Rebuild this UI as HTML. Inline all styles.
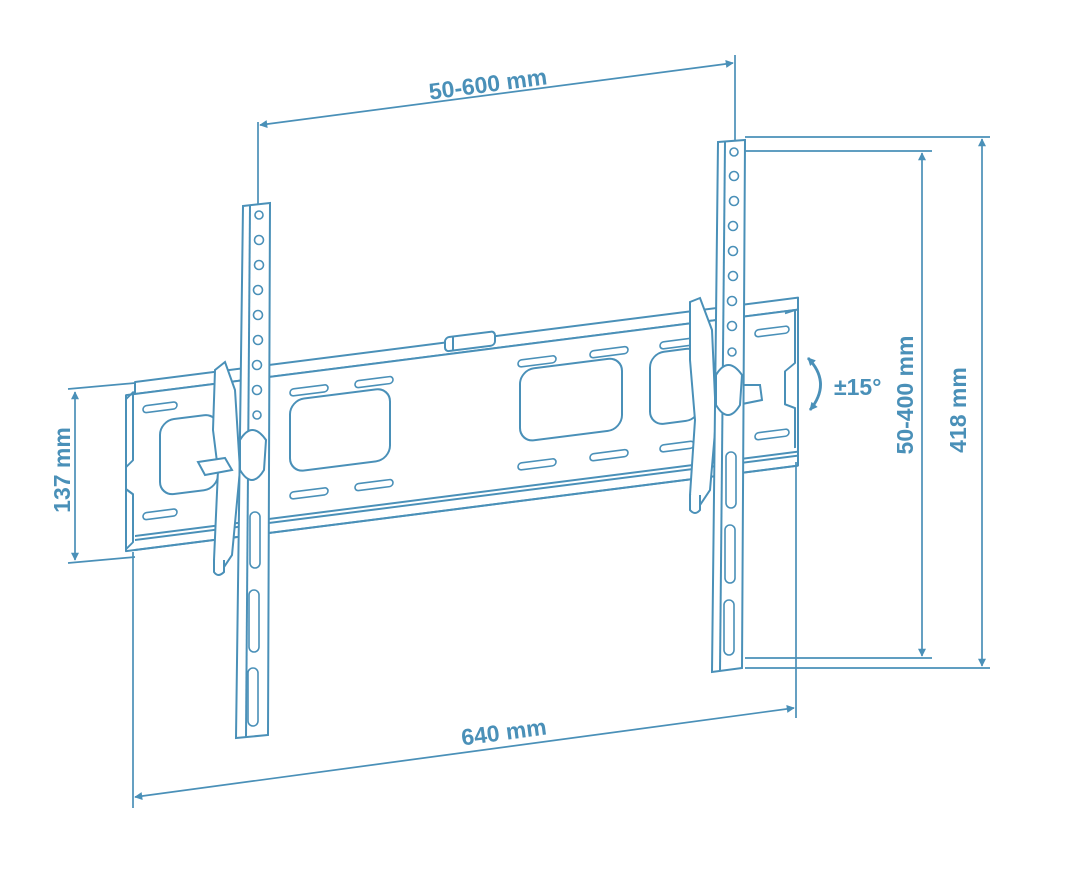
<!DOCTYPE html>
<html><head><style>
html,body{margin:0;padding:0;background:#fff;}
svg{display:block;}
text{font-family:"Liberation Sans",sans-serif;font-weight:bold;fill:#4a90b8;font-size:23px;}
</style></head><body>
<svg width="1079" height="880" viewBox="0 0 1079 880" xmlns="http://www.w3.org/2000/svg">
<defs>
<marker id="a" viewBox="0 0 10 10" refX="9" refY="5" markerWidth="11" markerHeight="8" orient="auto-start-reverse" markerUnits="userSpaceOnUse"><path d="M0,0 L10,5 L0,10 z" fill="#4a90b8"/></marker>
</defs>
<g stroke="#4a90b8" stroke-width="2" fill="none">
<g transform="translate(135,382) skewY(-7.25)" stroke-linejoin="round">
<path d="M0,0 L663,0 L663,12 L0,12 z" fill="#fff"/>
<path d="M-9,12 L663,12 L663,168 L-9,168 z" fill="#fff"/>
<path d="M-9,16 L-2,10 L-2,78 L-9,84 z"/>
<path d="M-9,106 L-2,112 L-2,160 L-9,166"/>
<line x1="0" y1="154" x2="663" y2="154"/>
<line x1="0" y1="158" x2="663" y2="158"/>
<line x1="0" y1="168" x2="663" y2="168"/>
<rect x="25" y="42" width="58" height="75" rx="14"/>
<rect x="155" y="38" width="100" height="72" rx="14"/>
<rect x="385" y="37" width="102" height="72" rx="14"/>
<rect x="515" y="37" width="50" height="72" rx="14"/>
<g stroke-width="1.6">
<rect x="8" y="25" width="34" height="7" rx="3.5"/><rect x="8" y="132" width="34" height="7" rx="3.5"/>
<rect x="155" y="27" width="38" height="7" rx="3.5"/><rect x="220" y="27" width="38" height="7" rx="3.5"/>
<rect x="155" y="130" width="38" height="7" rx="3.5"/><rect x="220" y="130" width="38" height="7" rx="3.5"/>
<rect x="383" y="27" width="38" height="7" rx="3.5"/><rect x="455" y="27" width="38" height="7" rx="3.5"/>
<rect x="383" y="130" width="38" height="7" rx="3.5"/><rect x="455" y="130" width="38" height="7" rx="3.5"/>
<rect x="525" y="27" width="34" height="7" rx="3.5"/><rect x="525" y="130" width="34" height="7" rx="3.5"/>
<rect x="620" y="27" width="34" height="7" rx="3.5"/><rect x="620" y="130" width="34" height="7" rx="3.5"/>
</g>
<rect x="310" y="-5" width="50" height="14" rx="4" fill="#fff"/>
<line x1="318" y1="-5" x2="318" y2="9"/>
<path d="M650,14 L660,12 L660,65 L650,72 L650,105 L660,110 L660,150"/>
</g>
<path d="M215,370 L225,362 L235,390 L240,470 L232,555 L222,570 L214,560 L218,470 L213,430 Z" fill="#fff"/>
<path d="M198,462 L225,458 L232,470 L205,475 Z" fill="#fff"/>
<path d="M214,560 L214,572 Q218,578 224,572 L224,560" fill="#fff"/>
<path d="M243,206 L270,203 L268,735 L236,738 Z" fill="#fff"/>
<line x1="250" y1="206" x2="246" y2="737"/>
<path d="M240,440 Q252,420 266,440 L264,470 Q252,490 240,470 Z" fill="#fff"/>
<g stroke-width="1.6">
<circle cx="259" cy="215" r="4"/><circle cx="259" cy="240" r="4.5"/><circle cx="259" cy="265" r="4.5"/><circle cx="258" cy="290" r="4.5"/><circle cx="258" cy="315" r="4.5"/><circle cx="258" cy="340" r="4.5"/><circle cx="257" cy="365" r="4.5"/><circle cx="257" cy="390" r="4.5"/><circle cx="257" cy="415" r="4"/>
<rect x="250" y="512" width="10" height="56" rx="5"/><rect x="249" y="590" width="10" height="62" rx="5"/><rect x="248" y="668" width="10" height="58" rx="5"/>
</g>
<path d="M690,302 L700,298 L712,330 L716,420 L710,490 L700,505 L690,495 L695,420 L690,360 Z" fill="#fff"/>
<path d="M740,385 L760,385 L762,400 L742,404 Z" fill="#fff"/>
<path d="M690,495 L690,510 Q695,516 700,510 L700,495" fill="#fff"/>
<path d="M718,142 L745,140 L742,668 L712,672 Z" fill="#fff"/>
<line x1="725" y1="142" x2="720" y2="671"/>
<path d="M716,375 Q728,355 742,375 L740,405 Q728,425 716,405 Z" fill="#fff"/>
<g stroke-width="1.6">
<circle cx="734" cy="152" r="4"/><circle cx="734" cy="176" r="4.5"/><circle cx="734" cy="201" r="4.5"/><circle cx="733" cy="226" r="4.5"/><circle cx="733" cy="251" r="4.5"/><circle cx="733" cy="276" r="4.5"/><circle cx="732" cy="301" r="4.5"/><circle cx="732" cy="326" r="4.5"/><circle cx="732" cy="352" r="4"/>
<rect x="726" y="452" width="10" height="56" rx="5"/><rect x="725" y="525" width="10" height="58" rx="5"/><rect x="724" y="600" width="10" height="55" rx="5"/>
</g>
<g stroke-width="1.7">
<line x1="258" y1="122" x2="258" y2="204"/>
<line x1="735" y1="55" x2="735" y2="140"/>
<line x1="260" y1="125" x2="733" y2="63" marker-start="url(#a)" marker-end="url(#a)"/>
<line x1="133" y1="552" x2="133" y2="808"/>
<line x1="796" y1="462" x2="796" y2="718"/>
<line x1="135" y1="797" x2="794" y2="708" marker-start="url(#a)" marker-end="url(#a)"/>
<line x1="68" y1="389" x2="135" y2="383"/>
<line x1="68" y1="563" x2="135" y2="557"/>
<line x1="75" y1="392" x2="75" y2="560" marker-start="url(#a)" marker-end="url(#a)"/>
<line x1="745" y1="151" x2="932" y2="151"/>
<line x1="745" y1="658" x2="932" y2="658"/>
<line x1="922" y1="153" x2="922" y2="656" marker-start="url(#a)" marker-end="url(#a)"/>
<line x1="745" y1="137" x2="990" y2="137"/>
<line x1="745" y1="668" x2="990" y2="668"/>
<line x1="982" y1="139" x2="982" y2="666" marker-start="url(#a)" marker-end="url(#a)"/>
<path d="M808,358 Q832,383 810,410" stroke-width="2.8" marker-start="url(#a)" marker-end="url(#a)"/>
</g>
</g>
<text x="488" y="92" text-anchor="middle" transform="rotate(-7.5 488 85)">50-600 mm</text>
<text x="504" y="740" text-anchor="middle" transform="rotate(-7.5 504 733)">640 mm</text>
<text transform="translate(70,470) rotate(-90)" text-anchor="middle">137 mm</text>
<text transform="translate(913,395) rotate(-90)" text-anchor="middle">50-400 mm</text>
<text transform="translate(966,410) rotate(-90)" text-anchor="middle">418 mm</text>
<text x="834" y="395">±15°</text>
</svg>
</body></html>
